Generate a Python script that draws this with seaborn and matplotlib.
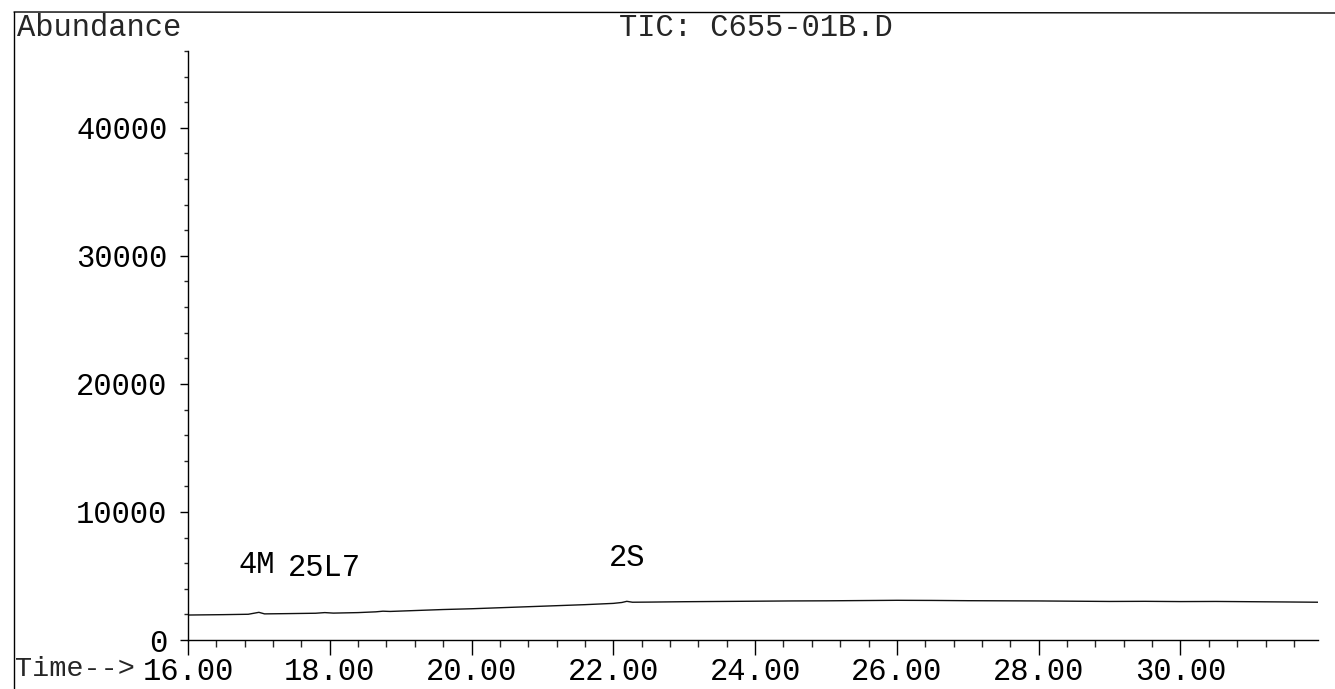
import matplotlib
matplotlib.use("Agg")
import matplotlib.pyplot as plt
import seaborn as sns
import pandas as pd
from matplotlib.ticker import MultipleLocator, FormatStrFormatter
from matplotlib.lines import Line2D

# ---- data ----
time_min = [16.00, 16.50, 16.85, 16.95, 17.00, 17.08, 17.40, 17.80, 17.93, 18.05,
            18.40, 18.65, 18.75, 18.85, 19.20, 19.60, 20.00, 20.40, 20.80, 21.20,
            21.60, 22.00, 22.12, 22.19, 22.27, 22.50, 23.00, 23.50, 24.00, 24.50,
            25.00, 25.50, 26.00, 26.50, 27.00, 27.50, 28.00, 28.50, 29.00, 29.50,
            30.00, 30.50, 31.00, 31.50, 31.94]
abundance = [1950, 1980, 2010, 2110, 2160, 2040, 2060, 2090, 2140, 2100,
             2140, 2200, 2250, 2230, 2300, 2380, 2440, 2520, 2600, 2680,
             2760, 2860, 2930, 3020, 2950, 2960, 2990, 3010, 3030, 3050,
             3060, 3080, 3100, 3090, 3070, 3060, 3050, 3030, 3010, 3020,
             3000, 3010, 2990, 2970, 2950]

peak_labels = ["4M", "25L7", "2S"]
peak_times = [16.97, 17.93, 22.19]
label_heights = [5860, 5630, 6410]

x_ticks = [16, 18, 20, 22, 24, 26, 28, 30]
y_ticks = [0, 10000, 20000, 30000, 40000]

title_text = "TIC: C655-01B.D"
ylabel_text = "Abundance"
xlabel_text = "Time-->"

df = pd.DataFrame({"time": time_min, "abundance": abundance})

# ---- figure ----
sns.set_style("white")
plt.rcParams["font.family"] = ["Liberation Mono", "DejaVu Sans Mono"]
W, H = 1335, 689
fig = plt.figure(figsize=(W / 100, H / 100), dpi=100)
left, right, bottom, top = 188, 1318, 640, 51
ax = fig.add_axes([left / W, (H - bottom) / H, (right - left) / W, (bottom - top) / H])

sns.lineplot(data=df, x="time", y="abundance", ax=ax, color="#111111",
             linewidth=1.0, estimator=None, sort=False)

ax.set_xlim(16, 31.94)
ax.set_ylim(0, 46000)
ax.set_xlabel("")
ax.set_ylabel("")

for s in ["top", "right"]:
    ax.spines[s].set_visible(False)
for s in ["left", "bottom"]:
    ax.spines[s].set_color("black")
    ax.spines[s].set_linewidth(1.0)

fs = 22
ax.set_xticks(x_ticks)
ax.xaxis.set_major_formatter(FormatStrFormatter("%.2f"))
ax.xaxis.set_minor_locator(MultipleLocator(0.4))
ax.set_yticks(y_ticks)
ax.yaxis.set_minor_locator(MultipleLocator(2000))
ax.tick_params(axis="x", which="major", direction="out", length=10.5, width=1,
               pad=2, labelsize=fs, colors="black", bottom=True)
ax.tick_params(axis="x", which="minor", direction="out", length=5, width=1, bottom=True)
ax.tick_params(axis="y", which="major", direction="out", length=5.8, width=1,
               pad=9, labelsize=fs, colors="black", left=True)
ax.tick_params(axis="y", which="minor", direction="out", length=3, width=1, left=True)

for lab, t, h in zip(peak_labels, peak_times, label_heights):
    ax.text(t, h, lab, ha="center", va="center", fontsize=fs, color="black")

# header texts and outer frame
fig.text(17 / W, 1 - 27.5 / H, ylabel_text, ha="left", va="center", fontsize=fs)
fig.text(756 / W, 1 - 27.5 / H, title_text, ha="center", va="center", fontsize=fs)
fig.text(15 / W, 1 - 669 / H, xlabel_text, ha="left", va="center", fontsize=20.5)

fig.add_artist(Line2D([14 / W, 14 / W], [0, 1 - 12 / H], transform=fig.transFigure,
                      color="black", linewidth=1.0))
fig.add_artist(Line2D([14 / W, 1.0], [1 - 12 / H, 1 - 13 / H], transform=fig.transFigure,
                      color="black", linewidth=1.0))

fig.savefig("out.png", dpi=100, facecolor="white")
